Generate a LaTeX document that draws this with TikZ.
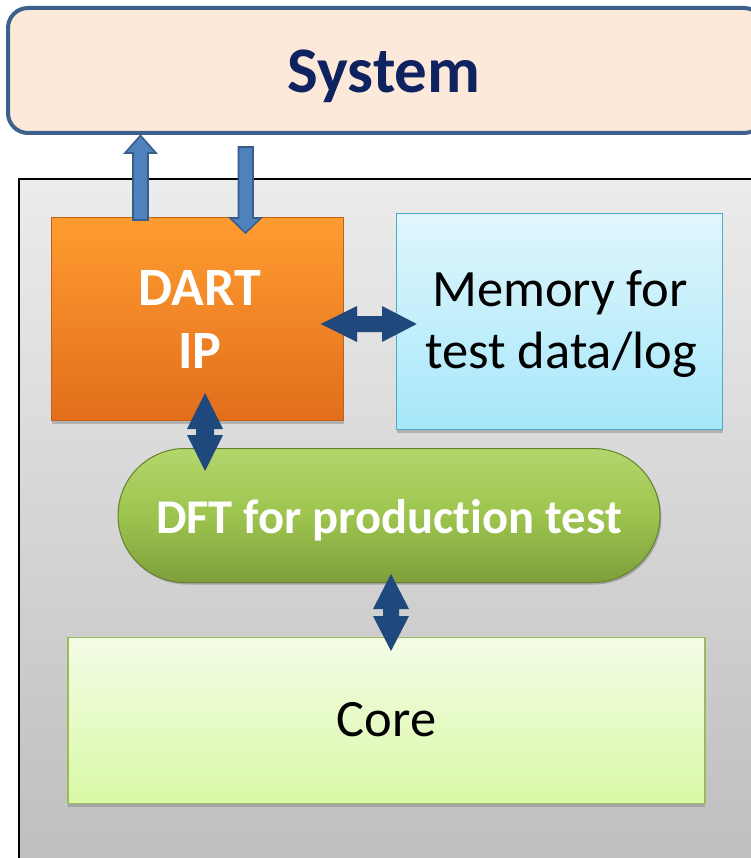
\documentclass[tikz,border=0pt]{standalone}
\usepackage{fontspec}
\setmainfont{Carlito}[Ligatures=NoCommon]
\usetikzlibrary{shadows}
\definecolor{sysfill}{RGB}{253,233,218}
\definecolor{sysdraw}{RGB}{62,96,140}
\definecolor{systext}{RGB}{14,35,95}
\definecolor{grayTop}{RGB}{236,236,236}
\definecolor{grayBot}{RGB}{190,190,190}
\definecolor{dartTop}{RGB}{255,156,48}
\definecolor{dartBot}{RGB}{226,110,28}
\definecolor{dartDraw}{RGB}{196,96,20}
\definecolor{memTop}{RGB}{224,246,252}
\definecolor{memBot}{RGB}{166,231,250}
\definecolor{memDraw}{RGB}{75,172,198}
\definecolor{dftTop}{RGB}{180,214,108}
\definecolor{dftMid}{RGB}{157,196,78}
\definecolor{dftBot}{RGB}{126,158,59}
\definecolor{dftDraw}{RGB}{100,130,45}
\definecolor{coreTop}{RGB}{243,252,230}
\definecolor{coreBot}{RGB}{218,249,166}
\definecolor{coreDraw}{RGB}{155,187,89}
\definecolor{arrFill}{RGB}{79,129,189}
\definecolor{arrDraw}{RGB}{56,93,138}
\definecolor{dblFill}{RGB}{31,73,125}
\begin{document}
\begin{tikzpicture}[x=1pt,y=-1pt,
  sysbox/.style={draw=sysdraw, line width=4pt, fill=sysfill, rounded corners=20pt, minimum width=756pt, minimum height=125pt},
  chipbox/.style={draw=black, line width=1.5pt, top color=grayTop, bottom color=grayBot, minimum width=760pt, minimum height=690pt},
  dartbox/.style={draw=dartDraw, line width=0.8pt, top color=dartTop, bottom color=dartBot, minimum width=292pt, minimum height=203pt,
     drop shadow={shadow xshift=0pt, shadow yshift=-3pt, opacity=0.45}},
  membox/.style={draw=memDraw, line width=1.2pt, top color=memTop, bottom color=memBot, minimum width=326pt, minimum height=216pt,
     drop shadow={shadow xshift=0pt, shadow yshift=-3pt, opacity=0.45}},
  dftbox/.style={draw=dftDraw, line width=1pt, top color=dftTop, bottom color=dftBot, middle color=dftMid, rounded corners=67pt, minimum width=542pt, minimum height=134pt,
     drop shadow={shadow xshift=1.5pt, shadow yshift=-2pt, opacity=0.55}},
  corebox/.style={draw=coreDraw, line width=1.8pt, top color=coreTop, bottom color=coreBot, minimum width=637pt, minimum height=166pt,
     drop shadow={shadow xshift=0pt, shadow yshift=-3pt, opacity=0.45}},
  blkarrow/.style={fill=arrFill, draw=arrDraw, line width=1.6pt, line join=miter},
  dblarrow/.style={fill=dblFill},
  boldtxt/.style={font=\fontsize{54}{64}\selectfont\bfseries, text=white, anchor=base, inner sep=0pt},
  plaintxt/.style={font=\fontsize{52.5}{62}\selectfont, text=black, anchor=base, inner sep=0pt}
]
\useasboundingbox (0,0) rectangle (751,858);
\clip (0,0) rectangle (751,858);
\fill[white] (0,0) rectangle (751,858);

% boxes
\node[sysbox] (sys) at (386,70.5) {};
\node[chipbox] (chip) at (399,524) {};
\node[dartbox] (dart) at (197.5,319) {};
\node[membox] (mem) at (559.5,321.5) {};
\node[dftbox] (dft) at (389,515.5) {};
\node[corebox] (core) at (386.5,720.5) {};

% texts
\node[font=\fontsize{65}{75}\selectfont\bfseries, text=systext, anchor=base, inner sep=0pt] (systxt) at (384,93) {System};
\node[boldtxt] (dart1) at (200,305) {DART};
\node[boldtxt] (dart2) at (200,368) {IP};
\node[plaintxt] (mem1) at (560,306.5) {Memory for};
\node[plaintxt] (mem2) at (561,368.5) {test data/log};
\node[boldtxt, font=\fontsize{48.5}{58}\selectfont\bfseries] (dfttxt) at (389,533.3) {DFT for production test};
\node[plaintxt] (coretxt) at (386.5,736.7) {Core};

% up arrow DART -> System
\draw[blkarrow] (133,220) -- (133,153) -- (125,153) -- (140.5,135.5) -- (156,153) -- (148,153) -- (148,220) -- cycle;
% down arrow System -> DART
\draw[blkarrow] (238.5,147) -- (253,147) -- (253,218) -- (261,218) -- (245.5,233) -- (230,218) -- (238.5,218) -- cycle;

% double arrow DART <-> Memory
\fill[dblarrow] (320.7,324) -- (357,306) -- (357,316) -- (382,316) -- (382,306) -- (416.7,324) -- (382,342) -- (382,332) -- (357,332) -- (357,342) -- cycle;
% double arrow DART <-> DFT
\fill[dblarrow] (205,393) -- (223,429) -- (214,429) -- (214,435) -- (223,435) -- (205,471) -- (187,435) -- (196,435) -- (196,429) -- (187,429) -- cycle;
% double arrow DFT <-> Core
\fill[dblarrow] (391,574) -- (409,609) -- (399,609) -- (399,616) -- (409,616) -- (391,651) -- (373,616) -- (383,616) -- (383,609) -- (373,609) -- cycle;
\end{tikzpicture}
\end{document}
